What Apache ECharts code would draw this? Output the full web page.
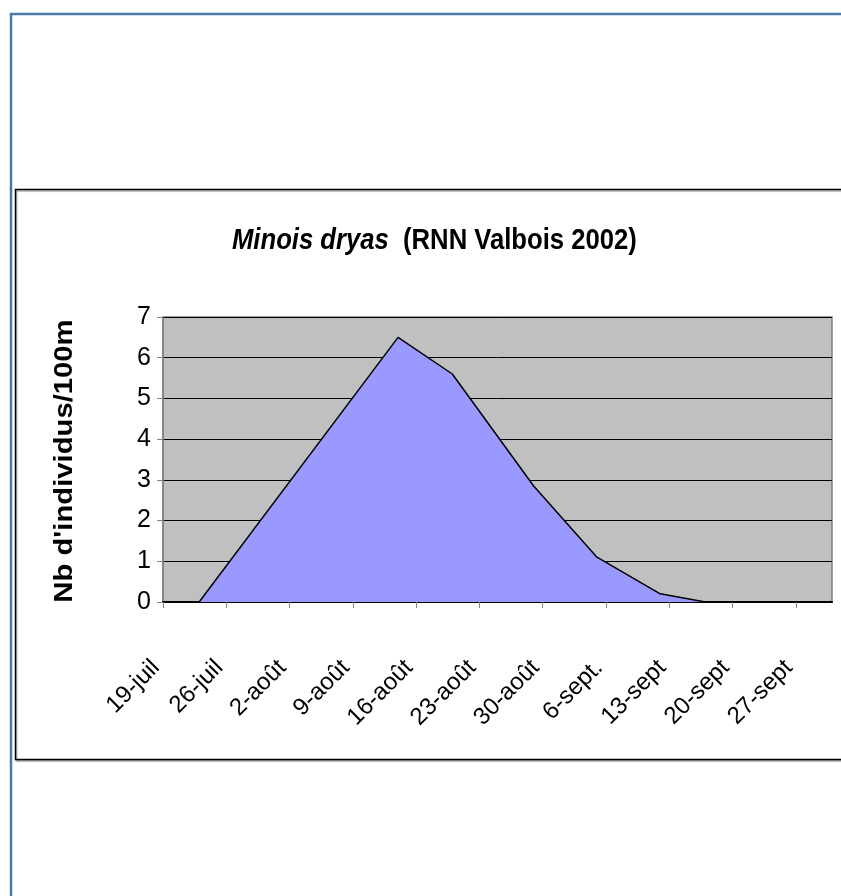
<!DOCTYPE html>
<html>
<head>
<meta charset="utf-8">
<script src="https://cdn.jsdelivr.net/npm/echarts@6/dist/echarts.min.js"></script>
<style>
  html, body { margin: 0; padding: 0; background: #fff; }
  #chart { width: 841px; height: 896px; }
</style>
</head>
<body>
<div id="chart"></div>
<script>
// Survey dates and counts (individuals per 100 m transect)
const surveyDates = ['2002-07-23', '2002-08-14', '2002-08-20', '2002-08-29', '2002-09-05', '2002-09-12', '2002-09-17'];
const density = [0, 6.5, 5.6, 2.85, 1.1, 0.2, 0];

// Date axis: weekly ticks starting 19 July, axis running to 1 October
const axisStart = '2002-07-19';
const axisEnd = '2002-10-01';
const tickLabels = ['19-juil', '26-juil', '2-août', '9-août', '16-août', '23-août', '30-août', '6-sept.', '13-sept', '20-sept', '27-sept'];
const yTicks = [0, 1, 2, 3, 4, 5, 6, 7];

const DAY = 86400000;
const toDay = s => {
  const [y, m, d] = s.split('-').map(Number);
  return Math.round((Date.UTC(y, m - 1, d) - Date.UTC(2002, 6, 19)) / DAY);
};
const xMin = toDay(axisStart);
const xMax = toDay(axisEnd);
const points = surveyDates.map((d, i) => [toDay(d), density[i]]);

const FONT = '"Liberation Sans", Arial, sans-serif';

const chart = echarts.init(document.getElementById('chart'), null, { renderer: 'canvas' });
chart.setOption({
  backgroundColor: '#ffffff',
  animation: false,
  graphic: [
    {
      type: 'rect', z: -10, silent: true,
      shape: { x: 11, y: 14, width: 900, height: 1000 },
      style: { fill: 'none', stroke: '#4a79a8', lineWidth: 2.5 }
    },
    {
      type: 'rect', z: -9, silent: true,
      shape: { x: 15.5, y: 189.5, width: 900, height: 570 },
      style: { fill: '#fff', stroke: '#000', lineWidth: 1.5, shadowColor: 'rgba(0,0,0,0.35)', shadowOffsetX: 1, shadowOffsetY: 1.5, shadowBlur: 1 }
    },
    {
      // chart title, set in a tight condensed bold face
      type: 'text', silent: true, z: 10,
      x: 232, y: 226, scaleX: 0.855,
      style: {
        text: '{it|Minois dryas}{rg|  (RNN Valbois 2002)}',
        rich: {
          it: { fontFamily: FONT, fontStyle: 'italic', fontWeight: 'bold', fontSize: 30, fill: '#000' },
          rg: { fontFamily: FONT, fontWeight: 'bold', fontSize: 30, fill: '#000' }
        }
      }
    },
    {
      // y-axis title, rotated and stretched along its length
      type: 'text', silent: true, z: 10,
      x: 65, y: 461, rotation: Math.PI / 2, scaleX: 1.17,
      style: {
        text: "Nb d'individus/100m",
        fontFamily: FONT, fontWeight: 'bold', fontSize: 25, fill: '#000',
        align: 'center', verticalAlign: 'middle'
      }
    }
  ],
  grid: {
    left: 163, top: 317, width: 669, height: 285,
    show: true, backgroundColor: '#c0c0c0', borderColor: '#808080', borderWidth: 1.5
  },
  xAxis: {
    type: 'value',
    min: xMin, max: xMax, interval: 7,
    axisLine: { show: true, onZero: false, lineStyle: { color: '#000', width: 2 } },
    axisTick: { show: true, length: 6, lineStyle: { color: '#808080', width: 1 } },
    splitLine: { show: false },
    axisLabel: {
      rotate: 45, margin: 55, showMaxLabel: false,
      padding: [0, 10, 0, 0],
      fontFamily: FONT, fontSize: 24, color: '#000',
      formatter: v => (v % 7 === 0 ? (tickLabels[v / 7] || '') : '')
    }
  },
  yAxis: {
    type: 'value',
    min: yTicks[0], max: yTicks[yTicks.length - 1], interval: 1,
    axisLine: { show: true, lineStyle: { color: '#808080', width: 1.5 } },
    axisTick: { show: true, length: 6, lineStyle: { color: '#808080', width: 1 } },
    splitLine: { show: true, lineStyle: { color: '#000', width: 1 } },
    axisLabel: { margin: 12, fontFamily: FONT, fontSize: 25, color: '#000' }
  },
  series: [{
    type: 'line',
    data: points,
    symbol: 'none',
    smooth: false,
    lineStyle: { color: '#000', width: 1.5 },
    areaStyle: { color: '#9999ff', opacity: 1 },
    z: 3
  }]
});
</script>
</body>
</html>
